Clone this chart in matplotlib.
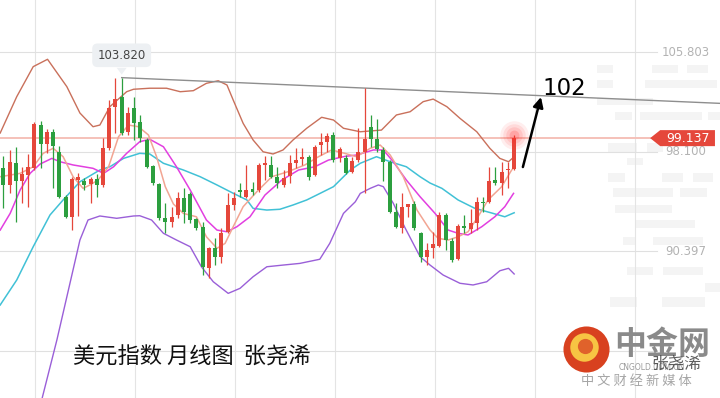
import numpy as np
import matplotlib
matplotlib.use("Agg")
import matplotlib.pyplot as plt
from matplotlib.patches import Polygon, Rectangle
from matplotlib.transforms import blended_transform_factory

plt.rcParams['font.family'] = ['Noto Sans CJK SC', 'DejaVu Sans']

# monthly candles, oldest first
opens = [96.80, 95.51, 97.19, 95.84, 96.28, 96.80, 100.15, 98.68, 99.63, 98.09,
         94.60, 93.05, 95.90, 95.82, 95.61, 95.95, 95.51, 98.35, 101.52, 102.30,
         99.63, 101.44, 100.41, 98.99, 96.98, 95.56, 92.93, 92.67, 93.18, 94.48,
         94.81, 92.85, 92.23, 89.06, 90.65, 89.96, 91.89, 93.96, 95.12, 94.60,
         95.17, 95.12, 97.06, 97.06, 96.10, 95.51, 96.20, 97.23, 97.50, 97.65,
         96.28, 98.60, 98.86, 99.38, 97.57, 97.57, 96.54, 97.44, 98.09, 100.02,
         99.05, 98.22, 97.31, 93.44, 92.15, 93.83, 94.04, 91.77, 89.96, 90.61,
         90.79, 93.18, 91.19, 89.75, 92.33, 92.08, 92.59, 94.21, 94.21, 95.89,
         95.69, 96.67, 96.72]
highs = [97.75, 98.22, 98.47, 96.92, 97.91, 100.41, 100.49, 99.82, 99.82, 98.53,
         94.73, 96.15, 96.40, 96.05, 96.10, 96.36, 99.12, 102.09, 103.77, 103.82,
         101.57, 102.34, 100.93, 99.12, 97.06, 95.66, 94.09, 93.83, 94.99, 95.25,
         94.99, 92.93, 92.67, 90.73, 91.38, 92.15, 94.86, 94.99, 95.64, 97.06,
         95.76, 97.19, 97.75, 97.75, 96.92, 96.67, 97.83, 98.35, 98.35, 97.83,
         98.60, 99.51, 99.56, 99.63, 98.47, 97.83, 97.70, 99.90, 102.99, 100.93,
         100.59, 98.47, 97.44, 94.09, 94.86, 94.04, 94.24, 91.89, 90.99, 91.89,
         93.44, 93.31, 91.38, 92.49, 93.18, 93.63, 94.55, 94.55, 96.92, 96.92,
         97.31, 97.31, 99.38]
lows = [93.72, 94.89, 92.67, 94.09, 93.83, 96.67, 96.80, 97.96, 95.25, 94.48,
        92.95, 92.02, 93.10, 95.12, 94.14, 94.60, 95.38, 98.22, 99.51, 99.38,
        99.38, 98.99, 98.86, 96.80, 95.51, 92.80, 91.77, 92.28, 92.93, 92.59,
        92.54, 92.02, 88.54, 88.28, 89.31, 89.45, 91.77, 93.57, 94.60, 94.48,
        94.73, 94.99, 95.89, 96.03, 95.25, 95.38, 95.64, 96.80, 97.06, 95.89,
        96.20, 97.83, 98.09, 97.31, 97.31, 96.36, 96.41, 97.31, 94.86, 98.47,
        98.09, 95.79, 93.36, 92.15, 91.77, 93.05, 92.02, 89.57, 89.31, 89.83,
        90.73, 90.47, 89.57, 89.70, 91.77, 91.77, 92.02, 93.44, 94.14, 95.51,
        94.73, 95.25, 96.67]
closes = [95.51, 97.31, 95.84, 96.33, 96.88, 100.21, 98.68, 99.59, 98.53, 94.60,
          93.05, 95.95, 96.14, 95.51, 95.95, 95.51, 98.35, 101.44, 102.16, 99.51,
          101.10, 100.33, 99.12, 96.92, 95.64, 92.93, 92.67, 93.05, 94.48, 93.44,
          92.80, 92.15, 89.18, 90.61, 89.96, 91.77, 93.96, 94.48, 94.99, 95.12,
          94.99, 97.06, 97.23, 96.15, 95.64, 96.07, 97.19, 97.44, 97.70, 96.15,
          98.43, 98.86, 99.30, 97.44, 98.27, 96.41, 97.39, 98.09, 99.05, 99.05,
          98.27, 97.31, 93.44, 92.28, 93.83, 94.04, 92.15, 89.96, 90.47, 90.94,
          93.18, 91.25, 89.70, 92.33, 92.15, 92.59, 94.21, 94.09, 95.84, 95.69,
          96.54, 96.72, 99.137]

# indicator lines: (month index, value)
boll_up_x = [-0.5, 2.15, 4.8, 7.1, 10.2, 12.3, 14.4, 15.5, 17.1, 19.8, 20.9, 23.5, 26.2,
             28.4, 30.5, 32.6, 34.5, 35.9, 36.9, 38.5, 40.1, 41.7, 43.3, 44.9, 46.5,
             48.7, 51.1, 53.0, 54.6, 57.3, 60.7, 63.1, 65.3, 67.4, 69.0, 71.2, 73.3,
             76.0, 78.1, 79.7, 81.1, 82.0]
boll_up = [99.53, 102.34, 104.67, 105.24, 103.12, 101.08, 100.02, 100.15, 101.57, 102.73,
           102.92, 103.00, 103.00, 102.73, 102.81, 103.38, 103.58, 103.25, 102.09, 100.28,
           98.99, 98.08, 97.91, 98.22, 98.99, 99.90, 100.75, 100.54, 99.90, 99.63, 99.76,
           100.93, 101.18, 101.96, 102.16, 101.57, 100.67, 99.63, 98.35, 97.57, 97.31, 97.70]

boll_dn_x = [4.0, 6.2, 8.6, 10.7, 12.3, 13.6, 15.5, 18.2, 20.9, 21.9, 23.8, 25.7, 27.8,
             30.0, 31.8, 33.7, 36.1, 38.0, 40.1, 42.3, 44.9, 47.6, 50.8, 52.4, 54.6,
             56.5, 57.3, 58.9, 60.2, 61.0, 62.6, 64.5, 66.9, 68.5, 70.6, 73.3, 75.4,
             77.6, 79.7, 81.1, 82.0]
boll_dn = [73.40, 78.94, 83.51, 87.90, 91.25, 92.80, 93.11, 92.93, 93.11, 93.13, 92.80,
           91.77, 91.25, 90.73, 89.18, 88.02, 87.12, 87.51, 88.41, 89.18, 89.31, 89.44,
           89.76, 90.99, 93.31, 94.21, 94.86, 95.25, 95.51, 95.38, 94.09, 92.18, 89.96,
           89.31, 88.54, 87.90, 87.77, 88.02, 88.87, 89.06, 88.62]

ma20_x = [-0.5, 2.15, 4.8, 7.5, 9.6, 12.3, 15.5, 17.1, 19.3, 21.9, 23.5, 25.7, 28.9,
          31.6, 34.3, 36.9, 39.1, 40.1, 42.3, 44.4, 46.5, 48.7, 50.3, 53.0, 55.7,
          57.3, 59.9, 62.1, 64.7, 66.9, 68.5, 70.4, 73.0, 75.7, 78.4, 80.5, 82.0]
ma20 = [86.22, 88.15, 90.73, 93.19, 94.35, 95.76, 96.67, 96.92, 97.57, 97.96, 97.91,
        97.19, 96.67, 96.15, 95.51, 94.87, 94.35, 93.70, 93.57, 93.63, 93.96, 94.35,
        94.73, 95.38, 96.67, 97.19, 97.70, 97.31, 96.92, 96.15, 95.66, 95.25, 94.35,
        93.70, 93.34, 93.05, 93.36]

ma10_x = [-0.5, 1.1, 2.7, 4.3, 5.9, 7.8, 9.1, 11.2, 14.4, 16.1, 17.7, 19.8, 21.9, 23.5,
          25.7, 27.8, 30.0, 32.6, 34.3, 35.9, 37.5, 39.6, 42.0, 44.7, 47.4, 50.0, 52.2,
          54.8, 56.7, 59.4, 61.0, 62.6, 64.7, 66.9, 69.3, 71.4, 73.0, 74.6, 76.8, 78.9,
          80.5, 81.9]
ma10 = [92.02, 93.31, 95.12, 96.41, 97.13, 97.57, 97.31, 97.06, 96.80, 96.41, 96.92,
        97.96, 98.86, 99.05, 98.47, 96.92, 95.12, 92.80, 92.02, 91.89, 92.28, 93.05,
        94.73, 95.89, 96.67, 96.92, 97.44, 97.72, 97.83, 98.22, 98.22, 97.31, 95.89,
        94.60, 93.31, 92.02, 91.77, 91.64, 92.28, 93.05, 93.83, 94.86]

ma5_x = [-0.5, 2.7, 4.8, 6.4, 8.0, 9.6, 11.2, 12.8, 13.9, 15.2, 16.9, 18.5, 20.1, 21.7,
         23.3, 24.6, 26.0, 27.3, 28.9, 31.0, 32.6, 34.3, 35.6, 36.9, 38.5, 40.7, 43.1,
         45.7, 48.4, 50.6, 52.7, 54.8, 56.7, 58.9, 60.5, 62.1, 64.2, 66.4, 68.5, 69.8,
         71.4, 73.0, 74.6, 76.2, 77.8, 80.0, 81.6, 82.1]
ma5 = [96.15, 96.41, 96.92, 97.96, 98.35, 97.70, 96.15, 95.25, 95.51, 95.89, 96.92,
       99.25, 100.15, 100.02, 99.38, 97.70, 95.38, 94.04, 93.31, 93.05, 91.50, 90.61,
       90.99, 92.28, 93.83, 94.99, 96.15, 96.54, 97.06, 97.70, 98.22, 97.96, 97.70,
       98.35, 98.60, 97.83, 96.15, 93.57, 92.02, 91.38, 91.25, 91.50, 91.89, 93.05,
       94.35, 95.38, 96.67, 96.92]

axis_prices = [105.803, 98.100, 90.397]
last_price = 99.137
peak_price = 103.820
peak_idx = 19
trend_x = [19, 115.0]
trend_y = [103.82, 101.83]
target_label = '102'

RED = '#e5473b'
GREEN = '#2c9f3f'

fig = plt.figure(figsize=(7.2, 3.98), dpi=100)
ax = fig.add_axes([0, 0, 1, 1])
ax.set_xlim(-0.53, 115.04)
ax.set_ylim(79.02, 109.83)
ax.axis('off')

# faint watermark blocks in the background (pixel boxes x0, x1, y0, y1)
W, H = 720.0, 398.0
decor = [(597, 613, 65, 73), (652, 678, 65, 73), (687, 708, 65, 73),
         (597, 613, 80, 88), (645, 717, 80, 88),
         (597, 653, 98, 105),
         (615, 632, 112, 120), (640, 702, 112, 120), (708, 720, 112, 120),
         (608, 637, 143, 152), (647, 663, 143, 152),
         (627, 643, 158, 165),
         (608, 625, 173, 182), (662, 683, 173, 182), (693, 713, 173, 182),
         (613, 673, 188, 197), (680, 707, 188, 197),
         (615, 672, 205, 213), (635, 695, 220, 228),
         (623, 635, 237, 245), (653, 703, 237, 245),
         (627, 653, 267, 275), (663, 703, 267, 275), (705, 720, 283, 292),
         (610, 637, 297, 307), (662, 705, 297, 307)]
for x0, x1, y0, y1 in decor:
    ax.add_patch(Rectangle((x0 / W, 1 - y1 / H), (x1 - x0) / W, (y1 - y0) / H,
                           transform=ax.transAxes, fc='#f4f4f4', ec='none', zorder=0))

# grid
for gx in np.arange(5.09, 115, 16.05):
    ax.axvline(gx, color='#e4e4e4', lw=0.8, zorder=0)
for gp in axis_prices + [82.694]:
    ax.axhline(gp, xmax=0.912, color='#e0e0e0', lw=0.8, zorder=0)

tr = blended_transform_factory(ax.transAxes, ax.transData)
for gp in axis_prices:
    ax.text(0.953, gp, f'{gp:.3f}', transform=tr, ha='center', va='center',
            fontsize=8.5, color='#b3b3b3', family='DejaVu Sans')

# current price line + tag
ax.axhline(last_price, xmax=0.905, color='#f5c1b9', lw=1.4, zorder=1)
h = 0.62
tag = Polygon([(0.903, last_price), (0.917, last_price + h), (0.993, last_price + h),
               (0.993, last_price - h), (0.917, last_price - h)],
              closed=True, transform=tr, fc=RED, ec='none', zorder=5)
ax.add_patch(tag)
ax.text(0.956, last_price, f'{last_price:.3f}', transform=tr, ha='center', va='center',
        fontsize=9, color='white', family='DejaVu Sans', zorder=6)

# indicator lines
ax.plot(boll_up_x, boll_up, color='#c9705b', lw=1.0, zorder=2)
ax.plot(boll_dn_x, boll_dn, color='#9a5fd8', lw=1.0, zorder=2)
ax.plot(ma20_x, ma20, color='#41c1d6', lw=1.1, zorder=2)
ax.plot(ma10_x, ma10, color='#e23fe0', lw=1.1, zorder=2)
ax.plot(ma5_x, ma5, color='#f2a593', lw=1.1, zorder=2)

# candles
idx = np.arange(len(opens))
o = np.array(opens)
c = np.array(closes)
cols = [RED if cc >= oo else GREEN for oo, cc in zip(o, c)]
ax.vlines(idx, lows, highs, colors=cols, lw=0.9, zorder=3)
body = np.maximum(np.abs(c - o), 0.08)
ax.bar(idx, body, bottom=np.minimum(o, c), width=0.64, color=cols, zorder=3)

# glow on last candle
for s, a in [(420, 0.08), (260, 0.10), (140, 0.12), (50, 0.2)]:
    ax.scatter(idx[-1], highs[-1], s=s, color='#ff2a2a', alpha=a, lw=0, zorder=4)

# trend line and peak label
ax.plot(trend_x, trend_y, color='#8e8e8e', lw=1.0, zorder=2)
ax.text(peak_idx, 105.55, f'{peak_price:.3f}', ha='center', va='center', fontsize=8.5,
        color='#444444', family='DejaVu Sans',
        bbox=dict(boxstyle='round,pad=0.45', fc='#edf0f3', ec='none'), zorder=6)
ax.add_patch(Polygon([(peak_idx - 0.8, 104.58), (peak_idx + 0.8, 104.58), (peak_idx, 104.05)],
                     closed=True, fc='#edf0f3', ec='none', zorder=6))

# forecast arrow
ax.annotate('', xy=(86.3, 102.32), xytext=(83.4, 96.9),
            arrowprops=dict(arrowstyle='-|>', color='black', lw=1.8, mutation_scale=15,
                            shrinkA=0, shrinkB=0), zorder=7)
ax.text(86.6, 102.98, target_label, fontsize=16.5, ha='left', va='center',
        family='DejaVu Sans', color='black')

# title
fig.text(73 / 720, 1 - 357 / 398, '美元指数 月线图  张尧浠', fontsize=16, ha='left',
         va='center', color='#111111')

# logo
lx, ly = 586 / 720, 1 - 349 / 398
ax.scatter(lx, ly, s=1100, color='#d8411f', transform=ax.transAxes, zorder=8, lw=0)
ax.scatter(lx - 0.003, ly + 0.004, s=420, color='#f7c443', transform=ax.transAxes, zorder=9, lw=0)
ax.scatter(lx - 0.001, ly + 0.008, s=120, color='#e0622b', transform=ax.transAxes, zorder=10, lw=0)
fig.text(614 / 720, 1 - 345 / 398, '中金网', fontsize=23, fontweight='bold', color='#8a8a8a',
         ha='left', va='center')
fig.text(652 / 720, 1 - 368 / 398, 'CNGOLD.COM.CN', fontsize=5.5, color='#9a9a9a',
         ha='center', va='center', family='DejaVu Sans')
fig.text(676 / 720, 1 - 364 / 398, '张尧浠', fontsize=12, color='#444444', alpha=0.85,
         ha='center', va='center')
fig.text(636 / 720, 1 - 381 / 398, '中 文 财 经 新 媒 体', fontsize=9.5, color='#a5a5a5',
         ha='center', va='center')

fig.savefig('out.png', dpi=100)
